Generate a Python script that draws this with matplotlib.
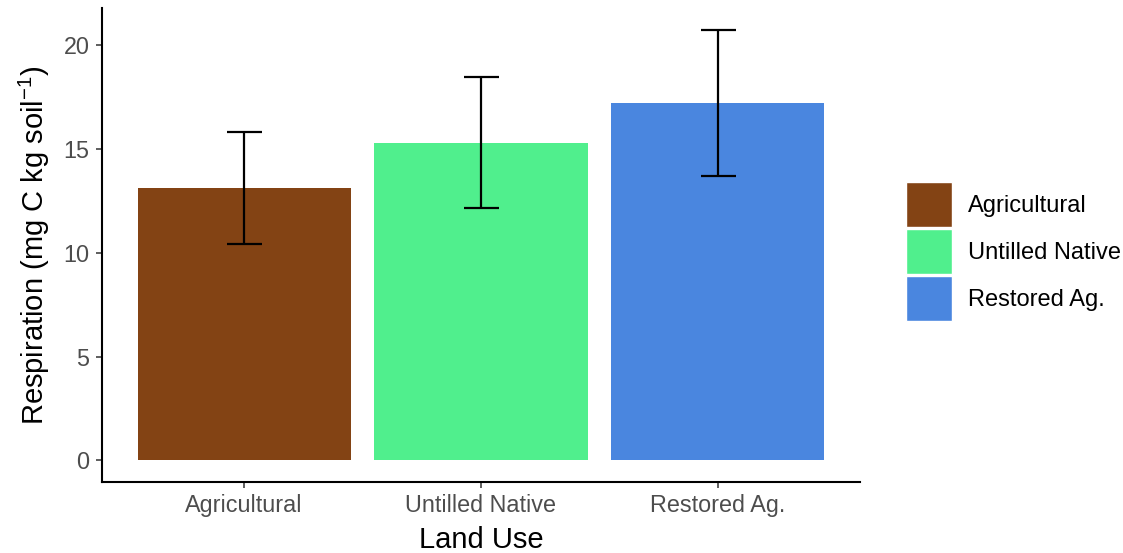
import numpy as np
import matplotlib.pyplot as plt
from matplotlib.patches import Patch

plt.rcParams['font.family'] = ['Liberation Sans', 'DejaVu Sans']
plt.rcParams['mathtext.fontset'] = 'custom'
plt.rcParams['mathtext.rm'] = 'Liberation Sans'
plt.rcParams['mathtext.it'] = 'Liberation Sans:italic'

# land use means and error half-widths
land_use = ['Agricultural', 'Untilled Native', 'Restored Ag.']
respiration = [13.10, 15.30, 17.21]
err = [2.69, 3.16, 3.53]
colors = ['#834314', '#50EF8D', '#4A86DF']
yticks = [0, 5, 10, 15, 20]

fig = plt.figure(figsize=(11.23, 5.53), dpi=100)
ax = fig.add_axes([0.0908, 0.1284, 0.675, 0.857])

x = np.arange(1, len(land_use) + 1)
ax.bar(x, respiration, width=0.9, color=colors)
ax.errorbar(x, respiration, yerr=err, fmt='none', ecolor='black',
            elinewidth=1.6, capsize=12.6, capthick=1.6)

ax.set_xlim(0.4, 3.6)
top = max(r + e for r, e in zip(respiration, err))
ax.set_ylim(-0.05 * top, top * 1.05)
ax.set_xticks(x)
ax.set_xticklabels(land_use)
ax.set_yticks(yticks)

for side in ['top', 'right']:
    ax.spines[side].set_visible(False)
for side in ['left', 'bottom']:
    ax.spines[side].set_linewidth(1.5)
ax.tick_params(axis='both', colors='#333333', labelcolor='#4D4D4D',
               labelsize=16.8, length=4, width=1.1, pad=5)

ax.set_xlabel('Land Use', fontsize=21, labelpad=6)
ax.set_ylabel('Respiration (mg C kg soil$^{-1}$)', fontsize=21, labelpad=8)

handles = [Patch(facecolor=c, edgecolor='white', linewidth=1.0) for c in colors]
fig.legend(handles, land_use, loc='center left', bbox_to_anchor=(0.796, 0.545),
           frameon=False, fontsize=17, handlelength=1.95, handleheight=2.55,
           labelspacing=0.1, handletextpad=0.7, borderpad=0)

fig.savefig('out.png', dpi=100)
